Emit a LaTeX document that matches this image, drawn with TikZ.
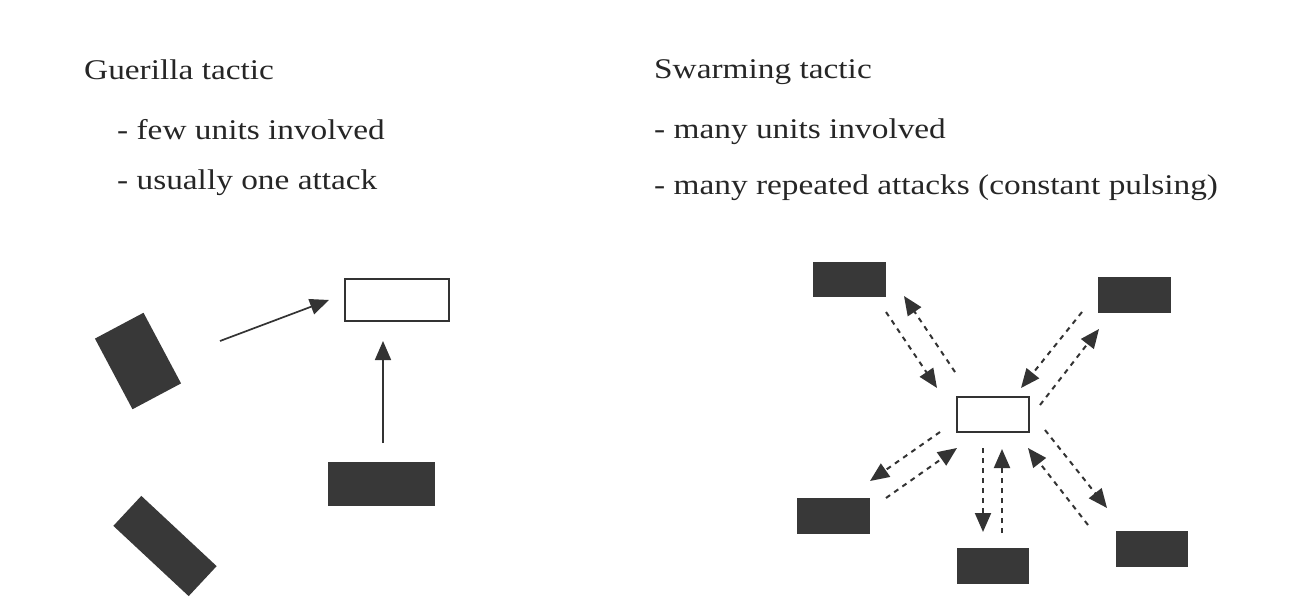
\documentclass[tikz,border=0pt]{standalone}
\usepackage{fontspec}
\setmainfont{Liberation Serif}[FakeStretch=1.17]
\usetikzlibrary{arrows.meta}
\begin{document}
\begin{tikzpicture}[x=1bp,y=-1bp,
  lbl/.style={anchor=base west,inner sep=0pt,text=black!85,font=\fontsize{28.6}{34}\selectfont},
  unit/.style={fill=black!78,draw=none,inner sep=0pt},
  target/.style={draw=black!80,line width=1.4bp,fill=white,inner sep=0pt},
  atk/.style={draw=black!80,line width=1.7bp,-{Triangle[length=19bp,width=16bp]}},
  puls/.style={atk,line width=2bp,dash pattern=on 5bp off 5bp}]
\path[use as bounding box,fill=white] (0,0) rectangle (1311,603);
% texts
\node[lbl] (g0) at (84,80) {Guerilla tactic};
\node[lbl] (g1) at (117,140) {- few units involved};
\node[lbl] (g2) at (117,190) {- usually one attack};
\node[lbl] (s0) at (654,79) {Swarming tactic};
\node[lbl] (s1) at (654,139) {- many units involved};
\node[lbl] (s2) at (654,195) {- many repeated attacks (constant pulsing)};
% guerilla
\node[target,minimum width=104bp,minimum height=42bp] (gt) at (397,300) {};
\node[unit,minimum width=55bp,minimum height=80bp,rotate=28] (gu1) at (138,361) {};
\node[unit,minimum width=103bp,minimum height=41bp,rotate=-43] (gu2) at (165,546) {};
\node[unit,minimum width=107bp,minimum height=44bp] (gu3) at (381.5,484) {};
\coordinate (ga1s) at (220,341); \coordinate (ga1e) at (329,300);
\coordinate (ga2s) at (383,443); \coordinate (ga2e) at (383,341);
\draw[atk] (ga1s) -- (ga1e);
\draw[atk] (ga2s) -- (ga2e);
% swarming
\node[target,minimum width=72bp,minimum height=35bp] (st) at (993,414.5) {};
\node[unit,minimum width=73bp,minimum height=35bp] (stl) at (849.5,279.5) {};
\node[unit,minimum width=73bp,minimum height=36bp] (str) at (1134.5,295) {};
\node[unit,minimum width=73bp,minimum height=36bp] (sbl) at (833.5,516) {};
\node[unit,minimum width=72bp,minimum height=36bp] (sbm) at (993,566) {};
\node[unit,minimum width=72bp,minimum height=36bp] (sbr) at (1152,549) {};
\coordinate (tla1) at (886,312); \coordinate (tla2) at (937,388);
\coordinate (tlb1) at (955,372); \coordinate (tlb2) at (904,296);
\coordinate (tra1) at (1082,312); \coordinate (tra2) at (1021,388);
\coordinate (trb1) at (1040,405); \coordinate (trb2) at (1099,329);
\coordinate (bla1) at (940,432); \coordinate (bla2) at (870,481);
\coordinate (blb1) at (886,498); \coordinate (blb2) at (957,448);
\coordinate (bma1) at (983,448); \coordinate (bma2) at (983,532);
\coordinate (bmb1) at (1002,533); \coordinate (bmb2) at (1002,449);
\coordinate (bra1) at (1045,430); \coordinate (bra2) at (1107,508);
\coordinate (brb1) at (1088,525); \coordinate (brb2) at (1028,448);
\draw[puls] (tla1) -- (tla2);
\draw[puls] (tlb1) -- (tlb2);
\draw[puls] (tra1) -- (tra2);
\draw[puls] (trb1) -- (trb2);
\draw[puls] (bla1) -- (bla2);
\draw[puls] (blb1) -- (blb2);
\draw[puls] (bma1) -- (bma2);
\draw[puls] (bmb1) -- (bmb2);
\draw[puls] (bra1) -- (bra2);
\draw[puls] (brb1) -- (brb2);
\end{tikzpicture}
\end{document}
